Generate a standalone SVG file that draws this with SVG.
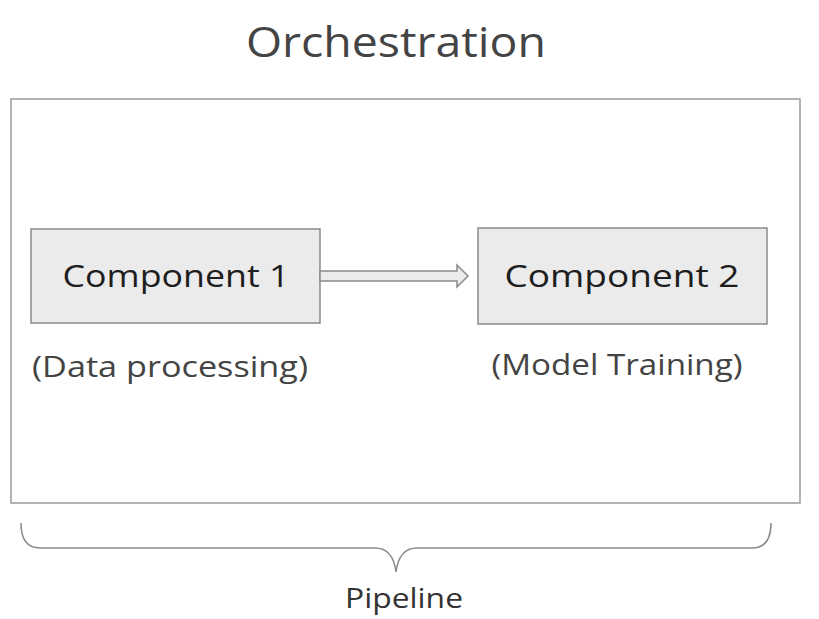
<svg xmlns="http://www.w3.org/2000/svg" width="819" height="619" viewBox="0 0 819 619">
<style>
text{font-family:"Open Sans","Noto Sans","Liberation Sans",sans-serif;fill:#3a3a3a}
.comp{fill:#ebebeb;stroke:#8a8a8a;stroke-width:1.5}
.title{font-size:31px;fill:#1e1e1e}
.sub{font-size:29px;fill:#444}
.line{fill:none;stroke:#8a8a8a;stroke-width:1.5}
</style>
<rect width="819" height="619" fill="#ffffff"/>
<text x="396" y="57" text-anchor="middle" style="font-size:42px;fill:#444" textLength="300" lengthAdjust="spacingAndGlyphs">Orchestration</text>
<g id="pipeline">
<rect x="11" y="99" width="789" height="404" fill="#ffffff" stroke="#9a9a9a" stroke-width="1.5"/>
</g>
<g id="component1">
<rect class="comp" x="31" y="229" width="289" height="94"/>
<text class="title" x="176" y="287" text-anchor="middle" textLength="227" lengthAdjust="spacingAndGlyphs">Component 1</text>
<text class="sub" x="170" y="377" text-anchor="middle" textLength="276" lengthAdjust="spacingAndGlyphs">(Data processing)</text>
</g>
<g id="component2">
<rect class="comp" x="478" y="228" width="289" height="96"/>
<text class="title" x="622" y="287" text-anchor="middle" textLength="235" lengthAdjust="spacingAndGlyphs">Component 2</text>
<text class="sub" x="617" y="375" text-anchor="middle" textLength="251" lengthAdjust="spacingAndGlyphs">(Model Training)</text>
</g>
<g id="connectors">
<path d="M320,271 H457 V265 L468,276 L457,287 V281 H320 Z" fill="#ebebeb" stroke="#8a8a8a" stroke-width="1.5" stroke-linejoin="miter"/>
<path class="line" d="M21,523 Q21,548 40,548 H375 Q393,548 396,572 Q399,548 417,548 H752 Q771,548 771,523" stroke="#777" stroke-width="1.2"/>
</g>
<text x="404" y="608" text-anchor="middle" style="font-size:28px;fill:#333" textLength="118" lengthAdjust="spacingAndGlyphs">Pipeline</text>
</svg>
